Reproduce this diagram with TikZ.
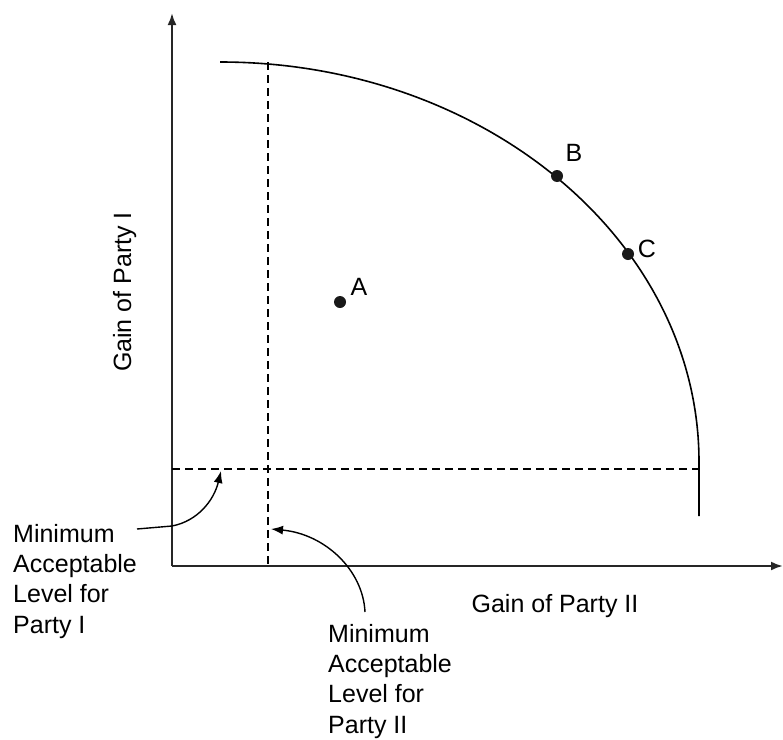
\documentclass[tikz,border=0pt]{standalone}
\usepackage{fontspec}
\setmainfont{Liberation Sans}
\usetikzlibrary{arrows.meta,positioning,calc}

\begin{document}
\begin{tikzpicture}[x=1pt,y=-1pt,>={Latex[length=12pt,width=9pt]},
axis/.style={line width=2.2pt,black!85},
guide/.style={line width=1.8pt,dash pattern=on 8pt off 5pt},
frontier/.style={line width=1.6pt},
pointer/.style={line width=1.4pt,->},
dot/.style={circle,fill=black!90,minimum size=12pt,inner sep=0pt},
lbl/.style={font=\fontsize{25}{30.3}\selectfont,inner sep=0pt},
note/.style={lbl,align=left,anchor=north west}]

\useasboundingbox (0,0) rectangle (783,739);

% axes
\coordinate (o) at (172,566);
\coordinate (ytip) at (172,13);
\coordinate (xtip) at (783,566);
\draw[axis,->] (o) -- (ytip);
\draw[axis,->] (o) -- (xtip);

% frontier
\coordinate (ftop) at (220,62);
\coordinate (fend) at (699,516);
\draw[frontier] (ftop) arc[start angle=-90,end angle=0,x radius=479,y radius=400] -- (fend);

% minimum levels
\coordinate (vtop) at (268,62);
\coordinate (vbot) at (268,566);
\coordinate (hleft) at (172,469);
\coordinate (hright) at (699,469);
\draw[guide] (vtop) -- (vbot);
\draw[guide] (hleft) -- (hright);

% points
\node[dot] (a) at (340,302) {};
\node[dot] (b) at (557,176) {};
\node[dot] (c) at (628,254) {};
\node[lbl] (la) at (359,287) {A};
\node[lbl] (lb) at (574,153) {B};
\node[lbl] (lc) at (647,249) {C};

% axis labels
\node[lbl,anchor=base] (xlab) at (555,612) {Gain of Party II};
\node[lbl,anchor=base,rotate=90] (ylab) at (131,292) {Gain of Party I};

% notes
\node[note] (minI) at (13,524) {Minimum\\Acceptable\\Level for\\Party I};
\node[note] (minII) at (328,624) {Minimum\\Acceptable\\Level for\\Party II};

\coordinate (fromI) at (137,529);
\coordinate (tipI) at (221,471);
\coordinate (fromII) at (365,612);
\coordinate (tipII) at (271,529);
\draw[pointer] (fromI) -- (172,526) .. controls (198,521) and (214,500) .. (tipI);
\draw[pointer] (fromII) .. controls (363,570) and (325,534) .. (tipII);
\end{tikzpicture}
\end{document}
